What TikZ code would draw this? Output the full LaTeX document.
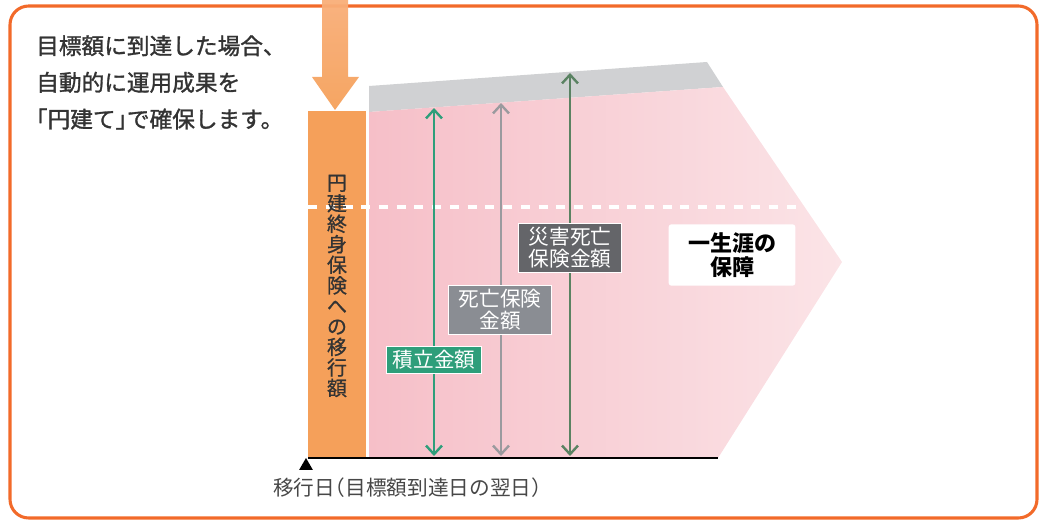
\documentclass[tikz,border=0pt]{standalone}
\usepackage{fontspec}
\setmainfont{Noto Sans CJK JP}
\newfontfamily\jphalt{Noto Sans CJK JP}[RawFeature=+halt]
\newfontfamily\jpmed{Noto Sans CJK JP}[FakeBold=1.3]
\newfontfamily\jpmedhalt{Noto Sans CJK JP}[FakeBold=1.3,RawFeature=+halt]
\newfontfamily\jpsemi{Noto Sans CJK JP}[FakeBold=0.8]
\usetikzlibrary{arrows.meta,shapes.geometric}
\definecolor{frameorange}{HTML}{F26A2A}
\definecolor{colorange}{HTML}{F5A05A}
\definecolor{arrowtop}{HTML}{F9AE78}
\definecolor{pinkL}{HTML}{F6BFC8}
\definecolor{pinkR}{HTML}{FBE4E7}
\definecolor{bandgray}{HTML}{D0D1D3}
\definecolor{accgreen}{HTML}{2E9E7A}
\definecolor{accgray}{HTML}{9A9A9E}
\definecolor{accdkgreen}{HTML}{5A8262}
\definecolor{boxgray}{HTML}{8A8D93}
\definecolor{boxdark}{HTML}{646569}
\definecolor{txtdark}{HTML}{333333}
\definecolor{baseline}{HTML}{555555}
\tikzset{
  x=0.75pt, y=-0.75pt,
  amount/.style={line width=1.8pt, {Straight Barb[length=6.5pt,width=12pt,line width=1.8pt]}-{Straight Barb[length=6.5pt,width=12pt,line width=1.8pt]}},
  labelbox/.style={draw=white, line width=1.2pt, text=white, font=\fontsize{15.5pt}{16.5pt}\selectfont, align=center, inner sep=2pt, minimum height=20pt},
}
\begin{document}
\begin{tikzpicture}
\useasboundingbox (0,0) rectangle (1040,520);
% frame
\draw[frameorange, line width=2.3pt, rounded corners=14] (10,6) rectangle (1037,518);
% gray band
\fill[bandgray] (369,86) -- (707,62) -- (723,87) -- (369,112) -- cycle;
% pink chevron
\shade[left color=pinkL, right color=pinkR] (369,112) -- (723,87) -- (842,262) -- (718,458) -- (369,458) -- cycle;
% orange column
\fill[colorange] (308,111) rectangle (366,458);
% baseline
\draw[baseline, line width=1.5pt] (308,458) -- (718,458);
% dashed line
\draw[white, line width=3pt, dash pattern=on 6.8pt off 6.5pt] (308,207) -- (800,207);
% orange arrow
\shade[top color=arrowtop, bottom color=colorange, opacity=0.95] (322,0) -- (348,0) -- (348,77) -- (359,77) -- (335,110) -- (312,77) -- (322,77) -- cycle;
% coordinates for arrows
\coordinate (gt) at (434,108); \coordinate (gb) at (434,456);
\coordinate (at) at (501,103); \coordinate (ab) at (501,456);
\coordinate (dt) at (570,73);  \coordinate (db) at (570,456);
\draw[amount, accgreen] (gb) -- (gt);
\draw[amount, accgray] (ab) -- (at);
\draw[amount, accdkgreen] (db) -- (dt);
% labels
\node[labelbox, fill=accgreen, minimum width=71pt] (l1) at (434,360) {積立金額};
\node[labelbox, fill=boxgray, minimum width=77pt, minimum height=37pt] (l2) at (500,310) {死亡保険\\金額};
\node[labelbox, fill=boxdark, minimum width=77pt, minimum height=37pt] (l3) at (570,248) {災害死亡\\保険金額};
\node[fill=white, rounded corners=2pt, minimum width=95pt, minimum height=46pt, align=center, font=\fontsize{16.5pt}{17.5pt}\selectfont\bfseries, text=black, inner sep=1pt] (l4) at (732,255) {一生涯の\\保障};
% vertical text
\node[text=txtdark, font=\jpsemi\fontsize{15pt}{15.4pt}\selectfont, align=center, inner sep=0pt] (vt) at (337,286) {円\\建\\終\\身\\保\\険\\へ\\の\\移\\行\\額};
% top-left text
\node[anchor=north west, text=txtdark, font=\jpmed\fontsize{17pt}{27.5pt}\selectfont, align=left, inner sep=0pt] (intro) at (36,35) {目標額に到達した場合、\\自動的に運用成果を\\{\jpmedhalt「}円建て{\jpmedhalt」}で確保します。};
% triangle marker
\node[isosceles triangle, isosceles triangle apex angle=60, shape border rotate=90, fill=black, inner sep=0pt, minimum size=9pt] (tri) at (306,466) {};
\node[text=txtdark!90, font=\fontsize{15.5pt}{16pt}\selectfont, anchor=west, inner sep=0pt] (date) at (273,488) {移行日{\jphalt（}目標額到達日の翌日{\jphalt）}};
\end{tikzpicture}
\end{document}
